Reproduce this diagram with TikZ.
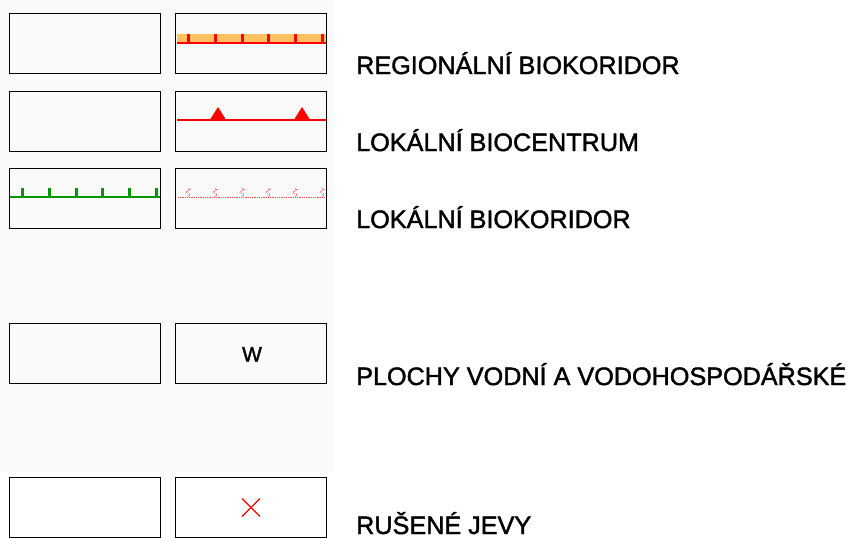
\documentclass[tikz,border=0pt]{standalone}
\usepackage{fontspec}
\setmainfont{Liberation Sans}
\newfontfamily\legfont{Liberation Sans}[FakeBold=1.6]
\usetikzlibrary{positioning}
\definecolor{bkorange}{RGB}{255,192,96}
\definecolor{bkgreen}{RGB}{0,150,0}

\begin{document}
\begin{tikzpicture}[x=1pt,y=-1pt,
  legbox/.style={draw=black,line width=1pt,minimum width=151pt,minimum height=60pt,inner sep=0pt},
  legtext/.style={anchor=base west,inner sep=0pt,font=\legfont\fontsize{25.2}{26}\selectfont},
  ]
  \useasboundingbox (0,0) rectangle (849,538);
  \fill[black!2] (0,0) rectangle (333,472);
  \node[legbox] (reg-l) at (84.5,43) {};
  \node[legbox] (reg-r) at (251,43) {};
  \node[legbox] (lbc-l) at (84.5,121) {};
  \node[legbox] (lbc-r) at (251,121) {};
  \node[legbox] (lbk-l) at (84.5,198) {};
  \node[legbox] (lbk-r) at (251,198) {};
  \node[legbox] (voda-l) at (84.5,353) {};
  \node[legbox] (voda-r) at (251,353) {};
  \node[legbox] (rus-l) at (84.5,507) {};
  \node[legbox] (rus-r) at (251,507) {};
  \node[legtext] (reg-t) at (356,74) {REGIONÁLNÍ BIOKORIDOR};
  \node[legtext] (lbc-t) at (356,151) {LOKÁLNÍ BIOCENTRUM};
  \node[legtext] (lbk-t) at (356,228) {LOKÁLNÍ BIOKORIDOR};
  \node[legtext] (voda-t) at (356,385) {PLOCHY VODNÍ A VODOHOSPODÁŘSKÉ};
  \node[legtext] (rus-t) at (356,534) {RUŠENÉ JEVY};
  \fill[bkorange] (176.5,34) rectangle (325.5,43);
  \draw[red,line width=1.5pt] (176.5,43) -- (325.5,43);
  \foreach \tx in {188,215,242,268,295,322}
    \draw[red,line width=3pt] (\tx,34) -- (\tx,43);
  \draw[red,line width=1.2pt] (176.5,120) -- (325.5,120);
  \fill[red] (209.5,120.5) -- (218,107) -- (226.5,120.5) -- cycle;
  \fill[red] (293.5,120.5) -- (302,107) -- (310.5,120.5) -- cycle;
  \draw[bkgreen,line width=1.2pt] (9.5,197) -- (159.5,197);
  \foreach \tx in {22,49,76,102,129,156}
    \draw[bkgreen,line width=3pt] (\tx,188) -- (\tx,197);
  \draw[red!70,densely dotted,line width=0.8pt] (178,197) -- (324,197);
  \foreach \tx in {188,215,242,268,295,322}
    \draw[red!70,densely dotted,line width=0.8pt] (\tx,197) -- (\tx+2,194.5) -- (\tx-2,192) -- (\tx+2,189.5) -- (\tx-1,188);
  \node[anchor=base,inner sep=0pt,font=\legfont\fontsize{21}{22}\selectfont] (voda-w) at (252,361.5) {W};
  \draw[red,line width=1.2pt] (242,498.5) -- (260,516.5) (242,516.5) -- (260,498.5);
\end{tikzpicture}
\end{document}
